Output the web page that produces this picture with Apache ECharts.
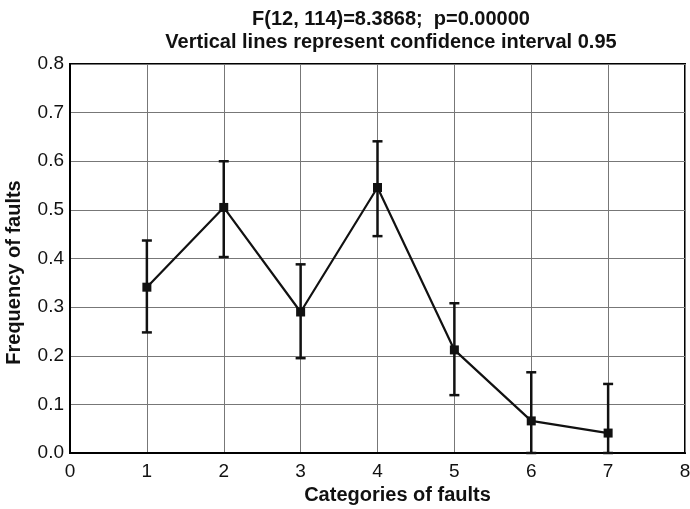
<!DOCTYPE html>
<html>
<head>
<meta charset="utf-8">
<script src="https://cdn.jsdelivr.net/npm/echarts@6/dist/echarts.min.js"></script>
<style>
  html, body { margin: 0; padding: 0; background: #fff; }
  #chart { width: 690px; height: 509px; }
</style>
</head>
<body>
<div id="chart"></div>
<script>
// fault categories and mean frequency with 0.95 confidence limits
var categories = [1, 2, 3, 4, 5, 6, 7]
var means = [0.341, 0.505, 0.290, 0.546, 0.212, 0.066, 0.041]
var upper = [0.437, 0.600, 0.388, 0.641, 0.308, 0.166, 0.142]
var lower = [0.248, 0.403, 0.195, 0.446, 0.119, 0.000, 0.000]
var xTicks = [0, 1, 2, 3, 4, 5, 6, 7, 8]
var yTicks = [0, 0.1, 0.2, 0.3, 0.4, 0.5, 0.6, 0.7, 0.8]

var font = "'Liberation Sans', Arial, sans-serif"

var chart = echarts.init(document.getElementById('chart'))

function getOption() {
  return {
    backgroundColor: '#fff',
    animation: false,
    title: {
      text: 'F(12, 114)=8.3868;  p=0.00000\nVertical lines represent confidence interval 0.95',
      left: 386,
      top: 3,
      textAlign: 'center',
      textStyle: {
        fontFamily: font,
        fontSize: 20,
        fontWeight: 'bold',
        color: '#111',
        lineHeight: 23
      }
    },
    grid: {
      left: 70,
      right: 5,
      top: 64,
      bottom: 56,
      show: true,
      borderColor: '#000',
      borderWidth: 2,
      containLabel: false,
      outerBoundsMode: 'none'
    },
    xAxis: {
      type: 'value',
      min: xTicks[0],
      max: xTicks[xTicks.length - 1],
      interval: 1,
      name: 'Categories of faults',
      nameLocation: 'middle',
      nameGap: 32,
      nameTextStyle: {
        fontFamily: font, fontSize: 20, fontWeight: 'bold', color: '#111',
        padding: [0, 0, 0, 40]
      },
      axisLine: { show: true, lineStyle: { color: '#000', width: 2 } },
      axisTick: { show: false },
      axisLabel: { fontFamily: font, fontSize: 19, color: '#111', margin: 9 },
      splitLine: { show: true, lineStyle: { color: '#777', width: 1 } }
    },
    yAxis: {
      type: 'value',
      min: yTicks[0],
      max: yTicks[yTicks.length - 1],
      interval: 0.1,
      name: 'Frequency of faults',
      nameLocation: 'middle',
      nameGap: 46,
      nameTextStyle: {
        fontFamily: font, fontSize: 20, fontWeight: 'bold', color: '#111',
        padding: [0, 28, 0, 0]
      },
      axisLine: { show: true, lineStyle: { color: '#000', width: 2 } },
      axisTick: { show: false },
      axisLabel: {
        fontFamily: font,
        fontSize: 19,
        color: '#111',
        margin: 6,
        formatter: function (v) { return v.toFixed(1) }
      },
      splitLine: { show: true, lineStyle: { color: '#777', width: 1 } }
    },
    series: [
      {
        type: 'line',
        data: categories.map(function (c, i) { return [c, means[i]] }),
        symbol: 'rect',
        symbolSize: 9,
        lineStyle: { color: '#111', width: 2.2 },
        itemStyle: { color: '#111' },
        z: 3
      },
      {
        type: 'custom',
        data: categories.map(function (c, i) { return [c, lower[i], upper[i]] }),
        renderItem: function (params, api) {
          var lo = api.coord([api.value(0), api.value(1)])
          var hi = api.coord([api.value(0), api.value(2)])
          var half = 5
          var style = { stroke: '#111', lineWidth: 2.5 }
          return {
            type: 'group',
            children: [
              { type: 'line', shape: { x1: hi[0], y1: hi[1], x2: lo[0], y2: lo[1] }, style: style },
              { type: 'line', shape: { x1: hi[0] - half, y1: hi[1], x2: hi[0] + half, y2: hi[1] }, style: style },
              { type: 'line', shape: { x1: lo[0] - half, y1: lo[1], x2: lo[0] + half, y2: lo[1] }, style: style }
            ]
          }
        },
        z: 2
      }
    ]
  }
}

chart.setOption(getOption())
</script>
</body>
</html>
